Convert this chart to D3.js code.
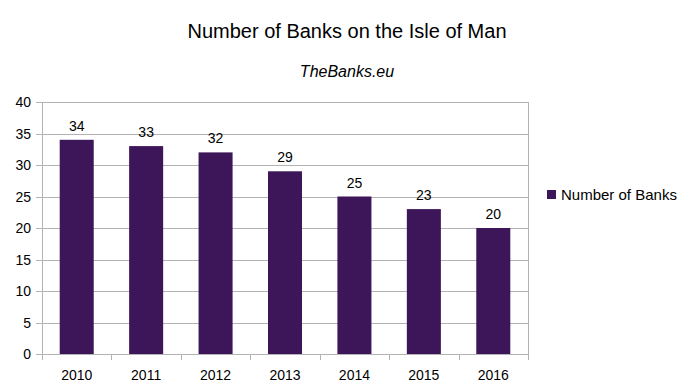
<!DOCTYPE html>
<html><head><meta charset="utf-8">
<script src="https://cdn.jsdelivr.net/npm/d3@7"></script>
<style>body{margin:0;background:#fff}svg{display:block;font-family:"Liberation Sans",Arial,sans-serif}</style>
</head><body><svg id="c" width="693" height="390"></svg>
<script>
const categories = ["2010","2011","2012","2013","2014","2015","2016"];
const values = [34,33,32,29,25,23,20];
const yTicks = [0,5,10,15,20,25,30,35,40];
const seriesName = "Number of Banks";

const svg = d3.select("#c");
const L=42, R=528, T=102, B=354;
const x = d3.scaleBand().domain(categories).range([L,R]).paddingInner(0.51).paddingOuter(0.255);
const xb = d3.scaleBand().domain(categories).range([L,R]);
const y = d3.scaleLinear().domain([0,40]).range([B,T]);
const color="#3c1659", grid="#b3b3b3";

svg.append("text").attr("x",347).attr("y",38).attr("text-anchor","middle").attr("font-size",20).attr("fill","#000").text("Number of Banks on the Isle of Man");
svg.append("text").attr("x",347).attr("y",77).attr("text-anchor","middle").attr("font-size",16).attr("font-style","italic").attr("fill","#000").text("TheBanks.eu");

svg.append("g").selectAll("line").data(yTicks).join("line")
 .attr("x1",L-6).attr("x2",R).attr("y1",d=>Math.round(y(d))+0.5).attr("y2",d=>Math.round(y(d))+0.5)
 .attr("stroke",grid).attr("stroke-width",1);
svg.append("line").attr("x1",L+0.5).attr("x2",L+0.5).attr("y1",T).attr("y2",B+6).attr("stroke",grid);
svg.append("line").attr("x1",R+0.5).attr("x2",R+0.5).attr("y1",T).attr("y2",B).attr("stroke",grid);
svg.append("g").selectAll("line").data(categories.slice(1).concat(["end"])).join("line")
 .attr("x1",(d,i)=>Math.round(L+xb.step()*(i+1))+0.5).attr("x2",(d,i)=>Math.round(L+xb.step()*(i+1))+0.5)
 .attr("y1",B).attr("y2",B+6).attr("stroke",grid);

svg.append("g").selectAll("text").data(yTicks).join("text")
 .attr("x",31).attr("y",d=>y(d)+5).attr("text-anchor","end").attr("font-size",14).attr("fill","#000").text(d=>d);

svg.append("g").selectAll("rect").data(values).join("rect")
 .attr("x",(d,i)=>x(categories[i])).attr("width",x.bandwidth())
 .attr("y",d=>y(d)).attr("height",d=>B-y(d)).attr("fill",color);

svg.append("g").selectAll("text").data(values).join("text")
 .attr("x",(d,i)=>x(categories[i])+x.bandwidth()/2).attr("y",d=>y(d)-9)
 .attr("text-anchor","middle").attr("font-size",14).attr("fill","#000").text(d=>d);

svg.append("g").selectAll("text").data(categories).join("text")
 .attr("x",d=>xb(d)+xb.bandwidth()/2).attr("y",380).attr("text-anchor","middle").attr("font-size",14).attr("fill","#000").text(d=>d);

svg.append("rect").attr("x",547).attr("y",190).attr("width",9).attr("height",9).attr("fill",color);
svg.append("text").attr("x",561).attr("y",199.5).attr("font-size",15).attr("fill","#000").text(seriesName);
</script></body></html>
